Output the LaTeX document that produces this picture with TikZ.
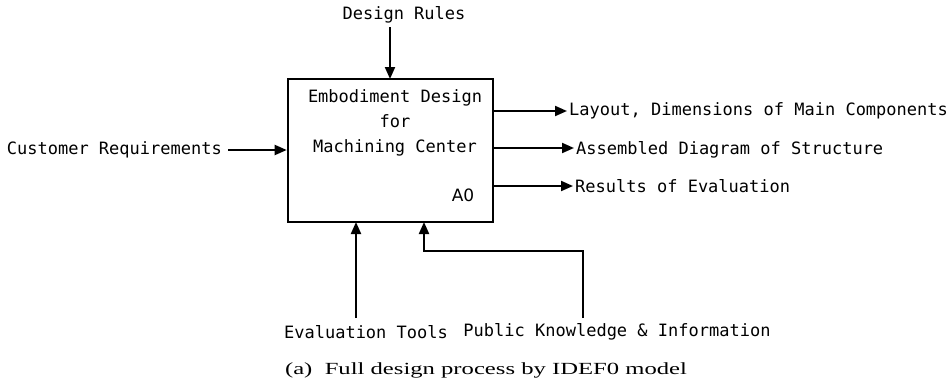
\documentclass[tikz,border=0pt]{standalone}
\usepackage{fontspec}
\setmainfont{DejaVu Sans Mono}
\newfontfamily\capfont{Liberation Serif}
\newfontfamily\plainsans{DejaVu Sans}
\usetikzlibrary{arrows.meta}
\begin{document}
\begin{tikzpicture}[x=1pt,y=-1pt,
  lbl/.style={font=\fontsize{17}{21}\selectfont, inner sep=2pt},
  flow/.style={line width=2pt, -{Triangle[length=12pt,width=10pt]}},
  fn/.style={draw, line width=2.6pt, minimum width=205pt, minimum height=143pt, inner sep=0pt}
]
\useasboundingbox (0,0) rectangle (948,381);

% activity box A0
\node[fn] (box) at (390.5,150.5) {};
\node[lbl, align=center, font=\fontsize{17}{25}\selectfont] (title) at (395,123)
  {Embodiment Design\\for\\Machining Center};
\node[lbl, font=\plainsans\fontsize{17}{21}\selectfont] (a0) at (463,195) {A0};

% input
\node[lbl, anchor=east] (cust) at (224,150) {Customer Requirements};
\draw[flow] (cust.east) ++(4,0) coordinate (custend) -- (custend -| box.west);

% control
\node[lbl] (rules) at (404,15) {Design Rules};
\coordinate (ctop) at (390,27);
\coordinate (cin) at (390,79);
\draw[flow] (ctop) -- (cin);

% outputs
\node[lbl, anchor=west] (out1) at (567,111) {Layout, Dimensions of Main Components};
\node[lbl, anchor=west] (out2) at (574,150) {Assembled Diagram of Structure};
\node[lbl, anchor=west] (out3) at (573,186) {Results of Evaluation};
\draw[flow] (box.east |- out1) -- (out1.west);
\draw[flow] (box.east |- 0,148) -- (out2.west |- 0,148);
\draw[flow] (box.east |- out3) -- (out3.west);

% mechanisms
\node[lbl] (tools) at (366,332) {Evaluation Tools};
\node[lbl] (know) at (617,332) {Public Knowledge \&\ Information};
\coordinate (t1) at (356,318);
\coordinate (t2) at (356,222);
\draw[flow] (t1) -- (t2);
\coordinate (k1) at (583,318);
\coordinate (k2) at (424,222);
\draw[flow] (k1) -- (583,251) -- (424,251) -- (k2);

% caption
\node[inner sep=0pt] (cap) at (486,370)
  {\capfont\fontsize{17}{20}\selectfont\scalebox{1.45}[1]{(a)\ \ Full design process by IDEF0 model}};
\end{tikzpicture}
\end{document}
